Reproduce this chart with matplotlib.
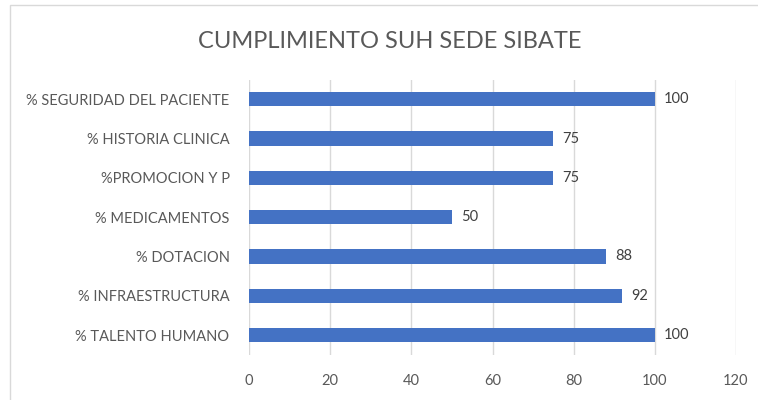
import matplotlib.pyplot as plt
from matplotlib.patches import Rectangle

# datos del grafico (de abajo hacia arriba)
categorias = ["% TALENTO HUMANO", "% INFRAESTRUCTURA", "% DOTACION",
              "% MEDICAMENTOS", "%PROMOCION Y P", "% HISTORIA CLINICA",
              "% SEGURIDAD DEL PACIENTE"]
valores = [100, 92, 88, 50, 75, 75, 100]
ticks_x = [0, 20, 40, 60, 80, 100, 120]

plt.rcParams['font.family'] = ['Lato', 'DejaVu Sans']

fig = plt.figure(figsize=(7.58, 4.0), dpi=100)
fig.patches.append(Rectangle((10 / 758, -0.1), 1.0, 1.0 - 5 / 400 + 0.1,
                             transform=fig.transFigure, fill=False,
                             edgecolor="#d9d9d9", linewidth=1))

ax = fig.add_axes([249 / 758, 1 - 354.7 / 400, 487 / 758, 275.1 / 400])
pos = list(range(len(categorias)))
ax.barh(pos, valores, height=0.36, color="#4472c4", zorder=3)

for p, v in zip(pos, valores):
    ax.text(v + 2.3, p, f"{v:.0f}", va="center", ha="left",
            fontsize=10.5, color="#404040")

ax.set_xlim(0, 120)
ax.set_ylim(-0.5, len(categorias) - 0.5)
ax.set_xticks(ticks_x)
ax.set_yticks(pos)
ax.set_yticklabels(categorias)
ax.tick_params(axis="both", length=0, labelsize=10.5, colors="#595959")
ax.tick_params(axis="y", pad=14)
ax.tick_params(axis="x", pad=14)
ax.grid(True, axis="x", color="#d9d9d9", linewidth=1, zorder=0)
for s in ax.spines.values():
    s.set_visible(False)

fig.text(390 / 758, 1 - 42 / 400, "CUMPLIMIENTO SUH SEDE SIBATE",
         ha="center", va="center", fontsize=17, color="#595959")

fig.savefig("out.png", dpi=100)
